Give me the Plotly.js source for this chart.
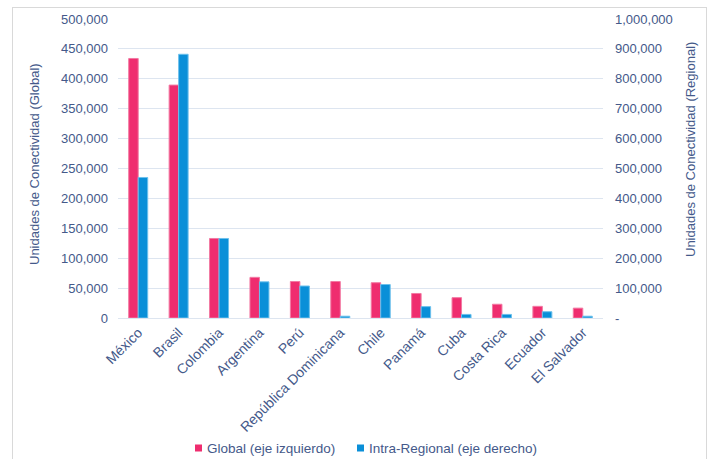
<!DOCTYPE html>
<html>
<head>
<meta charset="utf-8">
<script src="https://cdn.plot.ly/plotly-3.0.1.min.js"></script>
<style>
  html, body { margin: 0; padding: 0; background: #fff; }
  #wrap { position: relative; width: 715px; height: 459px; }
  #chart { position: absolute; left: 0; top: 0; width: 715px; height: 459px; }
  #frame { position: absolute; left: 12px; top: 7px; width: 695px; height: 460px;
           border: 1px solid #d9d9d9; pointer-events: none; box-sizing: border-box; }
</style>
</head>
<body>
<div id="wrap">
  <div id="chart"></div>
  <div id="frame"></div>
</div>
<script>
const categories = ["México", "Brasil", "Colombia", "Argentina", "Perú", "República Dominicana",
                    "Chile", "Panamá", "Cuba", "Costa Rica", "Ecuador", "El Salvador"];
const globalValues = [434000, 389500, 133000, 68000, 61000, 61000, 59000, 41000, 34000, 23000, 19500, 16500];
const regionalValues = [470000, 882000, 266000, 121000, 107000, 6000, 112000, 38000, 12000, 12000, 21000, 6000];
const leftTickVals = [0, 50000, 100000, 150000, 200000, 250000, 300000, 350000, 400000, 450000, 500000];
const leftTickText = ["0", "50,000", "100,000", "150,000", "200,000", "250,000", "300,000", "350,000", "400,000", "450,000", "500,000"];
const rightTickVals = [0, 100000, 200000, 300000, 400000, 500000, 600000, 700000, 800000, 900000, 1000000];
const rightTickText = ["-", "100,000", "200,000", "300,000", "400,000", "500,000", "600,000", "700,000", "800,000", "900,000", "1,000,000"];
const seriesNames = ["Global (eje izquierdo)", "Intra-Regional (eje derecho)"];
const seriesColors = ["#ef2d6f", "#0a8fd8"];
const seriesEdges = ["#f27aa3", "#6cc0ec"];
const leftTitle = "Unidades de Conectividad (Global)";
const rightTitle = "Unidades de Conectividad (Regional)";

const textColor = "#44598a";
const gridColor = "#dde5f0";
const fam = "Liberation Sans, Arial, sans-serif";

const traces = [
  {
    type: "bar", name: seriesNames[0], x: categories, y: globalValues,
    marker: { color: seriesColors[0], line: { color: seriesEdges[0], width: 1 } },
    offset: -0.235, width: 0.235, yaxis: "y", showlegend: false
  },
  {
    type: "bar", name: seriesNames[1], x: categories, y: regionalValues,
    marker: { color: seriesColors[1], line: { color: seriesEdges[1], width: 1 } },
    offset: 0, width: 0.235, yaxis: "y2", showlegend: false
  }
];

// plot area: x 118..603 px, y 19..318 px
const px = v => (v - 118) / 485;
const py = v => (318 - v) / 299;

const legendItems = [
  { x: 195, label: seriesNames[0], color: seriesColors[0] },
  { x: 357, label: seriesNames[1], color: seriesColors[1] }
];
const legendY = 448;

const shapes = legendItems.map(it => ({
  type: "rect", xref: "paper", yref: "paper",
  x0: px(it.x), x1: px(it.x + 7), y0: py(legendY + 3.5), y1: py(legendY - 3.5),
  fillcolor: it.color, line: { width: 0 }
}));

const annotations = [
  { text: leftTitle, textangle: -90, xref: "paper", yref: "paper",
    x: px(34), y: py(164), xanchor: "center", yanchor: "middle", showarrow: false,
    font: { family: fam, size: 13, color: textColor } },
  { text: rightTitle, textangle: -90, xref: "paper", yref: "paper",
    x: px(690), y: py(150), xanchor: "center", yanchor: "middle", showarrow: false,
    font: { family: fam, size: 13, color: textColor } }
].concat(legendItems.map(it => ({
  text: it.label, xref: "paper", yref: "paper",
  x: px(it.x + 10), y: py(legendY), xanchor: "left", yanchor: "middle", showarrow: false,
  font: { family: fam, size: 13.5, color: textColor }
})));

const layout = {
  width: 715, height: 459,
  margin: { l: 118, r: 112, t: 19, b: 141 },
  paper_bgcolor: "#ffffff", plot_bgcolor: "#ffffff",
  font: { family: fam, size: 13, color: textColor },
  showlegend: false,
  xaxis: {
    type: "category", tickangle: -45, showgrid: false, zeroline: false,
    showline: true, linecolor: gridColor, linewidth: 1, ticks: "",
    tickfont: { family: fam, size: 14, color: textColor },
    range: [-0.5, 11.5]
  },
  yaxis: {
    range: [0, 500000], tickvals: leftTickVals, ticktext: leftTickText,
    showgrid: true, gridcolor: gridColor, gridwidth: 1, zeroline: false,
    showline: false, ticks: "", ticklabelstandoff: 9,
    tickfont: { family: fam, size: 13, color: textColor }
  },
  yaxis2: {
    range: [0, 1000000], tickvals: rightTickVals, ticktext: rightTickText,
    overlaying: "y", side: "right", showgrid: false, zeroline: false,
    showline: false, ticks: "", ticklabelstandoff: 11,
    tickfont: { family: fam, size: 13, color: textColor }
  },
  shapes: shapes,
  annotations: annotations
};

Plotly.newPlot("chart", traces, layout, { displayModeBar: false, staticPlot: true });
</script>
</body>
</html>
